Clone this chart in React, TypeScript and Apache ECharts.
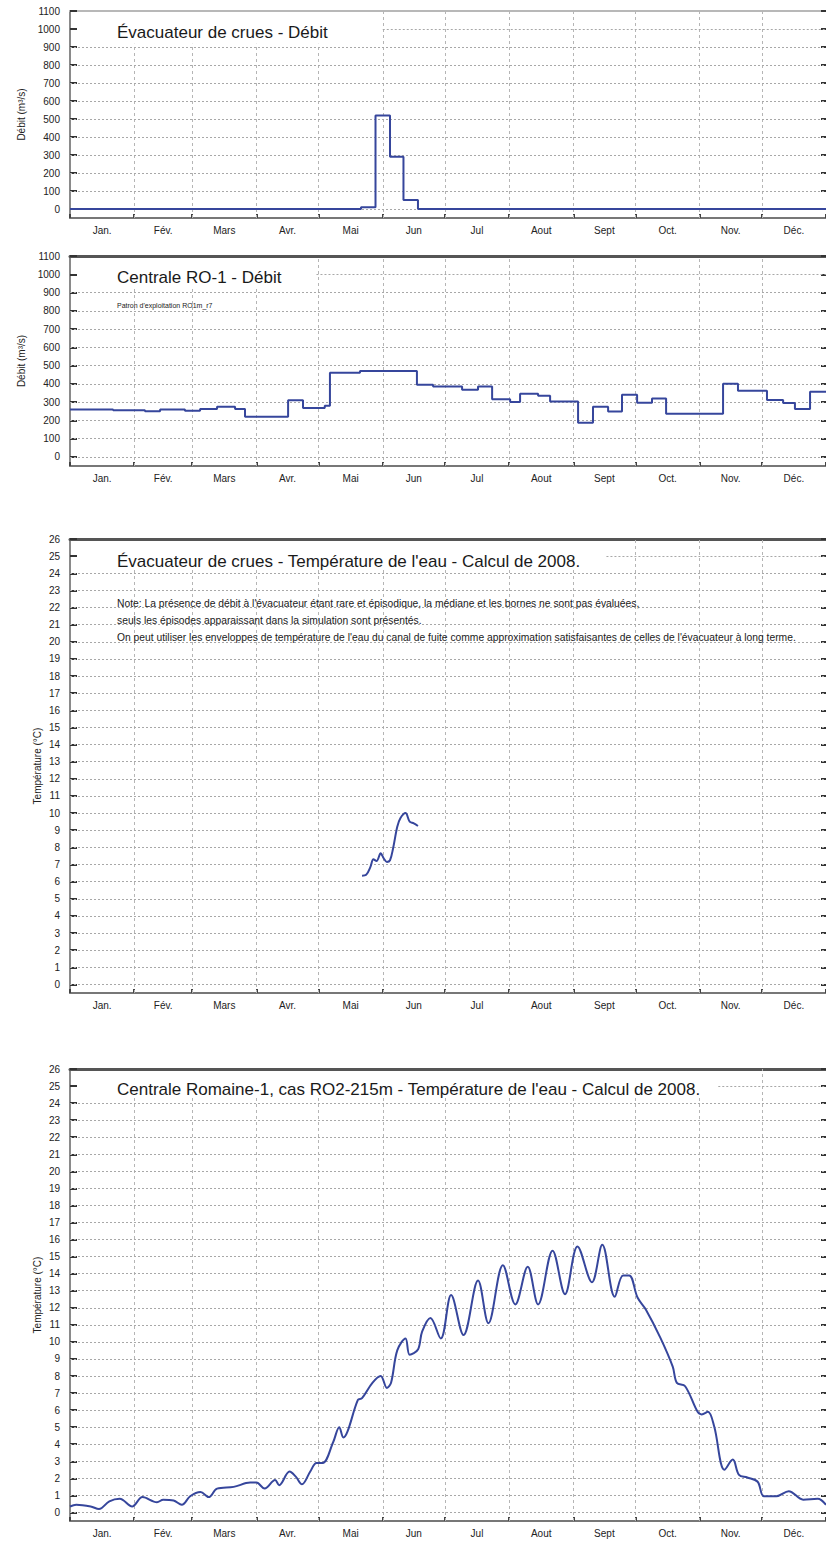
import React, { useEffect, useRef } from "react";
import * as echarts from "echarts";

// ---------- categories / ticks ----------
const MONTHS = ["Jan.", "Fév.", "Mars", "Avr.", "Mai", "Jun", "Jul", "Aout", "Sept", "Oct.", "Nov.", "Déc."];
const MONTH_STARTS = [0, 31, 59, 90, 120, 151, 181, 212, 243, 273, 304, 334, 365];
const DEBIT_TICKS = [0, 100, 200, 300, 400, 500, 600, 700, 800, 900, 1000, 1100];
const TEMP_TICKS = [0, 1, 2, 3, 4, 5, 6, 7, 8, 9, 10, 11, 12, 13, 14, 15, 16, 17, 18, 19, 20, 21, 22, 23, 24, 25, 26];

// ---------- series values: [day of year, value] ----------
const SPILL_FLOW: [number, number][] = [
  [0, 0], [140.5, 10], [147.5, 520], [154.5, 290], [161, 50], [168, 0], [365, 0],
];

const PLANT_FLOW: [number, number][] = [
  [0, 260], [20.8, 255], [36.2, 250], [43.5, 260], [55.5, 252], [62.8, 262], [71, 275],
  [79.7, 262], [84.5, 220], [105.3, 310], [112.5, 268], [123, 280], [125.5, 460], [140, 470],
  [167.5, 395], [175.3, 385], [189.3, 368], [197, 385], [203.8, 315], [212.5, 300], [217.3, 345],
  [226, 335], [231.8, 303], [245.3, 187], [252.5, 275], [259.8, 248], [266.5, 340], [273.8, 297],
  [281, 320], [287.8, 236], [315.3, 400], [322.5, 362], [336.5, 312], [344.3, 295], [350, 262],
  [357.3, 357], [365, 357],
];

const SPILL_TEMP: [number, number][] = [
  [141, 6.35], [143, 6.4], [145, 6.85], [146.5, 7.3], [148, 7.2], [150, 7.65], [151.5, 7.35],
  [153, 7.15], [154.5, 7.25], [156, 7.95], [158, 9.2], [159.5, 9.7], [162, 10.0], [164, 9.5],
  [166, 9.4], [168, 9.25],
];

const PLANT_TEMP: [number, number][] = [
  [0, 0.35], [3, 0.45], [10, 0.35], [14, 0.2], [19, 0.65], [24, 0.8], [30, 0.35], [35, 0.9],
  [42, 0.6], [45, 0.75], [50, 0.7], [54, 0.45], [58, 0.95], [63, 1.2], [67, 0.9], [71, 1.4],
  [79, 1.5], [87, 1.75], [90, 1.75], [94, 1.4], [99, 1.9], [101, 1.6], [106, 2.4], [109, 2.1],
  [112, 1.65], [116, 2.4], [119, 2.9], [122, 2.9], [127, 4.1], [130, 5.0], [132, 4.4], [134, 4.75],
  [139, 6.6], [141, 6.7], [146, 7.6], [150, 8.0], [153, 7.3], [155, 7.6], [158, 9.5], [162, 10.2],
  [164, 9.25], [168, 9.55], [170, 10.6], [174, 11.4], [179, 10.2], [184, 12.75], [190, 10.4],
  [197, 13.6], [202, 11.1], [209, 14.5], [215, 12.2], [221, 14.4], [226, 12.2], [233, 15.35],
  [239, 12.8], [245, 15.6], [252, 13.5], [257, 15.7], [263, 12.65], [267, 13.9], [270, 13.9],
  [274, 12.6], [278, 11.9], [285, 10.25], [291, 8.55], [293, 7.6], [297, 7.4], [303, 5.9],
  [305, 5.75], [308, 5.9], [311, 5.05], [316, 2.5], [320, 3.1], [323, 2.2], [327, 2.05],
  [332, 1.8], [335, 0.95], [341, 0.95], [347, 1.25], [354, 0.75], [361, 0.8], [365, 0.45],
];

const TITLES = [
  "Évacuateur de crues - Débit",
  "Centrale RO-1 - Débit",
  "Évacuateur de crues - Température de l'eau - Calcul de 2008.",
  "Centrale Romaine-1, cas RO2-215m - Température de l'eau - Calcul de 2008.",
];
const SUBTITLE_RO1 = "Patron d'exploitation RO1m_r7";
const NOTES = [
  "Note: La présence de débit à l'évacuateur étant rare et épisodique, la médiane et les bornes ne sont pas évaluées,",
  "seuls les épisodes apparaissant dans la simulation sont présentés.",
  "On peut utiliser les enveloppes de température de l'eau du canal de fuite comme approximation satisfaisantes de celles de l'évacuateur à long terme.",
];

const FONT = "'Liberation Sans', Arial, sans-serif";
const LINE_COLOR = "#36469c";
const MONTH_MIDS = MONTH_STARTS.slice(0, 12).map((s, i) => (s + MONTH_STARTS[i + 1]) / 2);

type Panel = {
  top: number; height: number; yMin: number; yMax: number; ticks: number[];
  name: string; nameGap: number; data: [number, number][]; kind: "step" | "smooth";
  topColor: string; topWidth: number;
  title: string; titleY: number;
  // title area kept free of grid lines: left of day `clipDay` and above `clipValue`
  clipDay: number; clipValue: number;
};

const PANELS: Panel[] = [
  { top: 11, height: 207, yMin: -50, yMax: 1100, ticks: DEBIT_TICKS, name: "Débit (m³/s)", nameGap: 44,
    data: SPILL_FLOW, kind: "step", topColor: "#b8b8b8", topWidth: 2,
    title: TITLES[0], titleY: 32, clipDay: 151, clipValue: 918 },
  { top: 256, height: 210, yMin: -50, yMax: 1100, ticks: DEBIT_TICKS, name: "Débit (m³/s)", nameGap: 44,
    data: PLANT_FLOW, kind: "step", topColor: "#555", topWidth: 3,
    title: TITLES[1], titleY: 277, clipDay: 119, clipValue: 922 },
  { top: 539, height: 454, yMin: -0.5, yMax: 26, ticks: TEMP_TICKS, name: "Température (°C)", nameGap: 28,
    data: SPILL_TEMP, kind: "smooth", topColor: "#555", topWidth: 3,
    title: TITLES[2], titleY: 561, clipDay: 259, clipValue: 24.3 },
  { top: 1069, height: 452, yMin: -0.5, yMax: 26, ticks: TEMP_TICKS, name: "Température (°C)", nameGap: 28,
    data: PLANT_TEMP, kind: "smooth", topColor: "#555", topWidth: 3,
    title: TITLES[3], titleY: 1089, clipDay: 313, clipValue: 24.3 },
];

const V_STYLE = { color: "#b5b5b5", width: 1, type: [3, 3] };
const H_STYLE = { color: "#a8a8a8", width: 1, type: [2, 2] };

function buildOption() {
  const grid: any[] = [];
  const xAxis: any[] = [];
  const yAxis: any[] = [];
  const series: any[] = [];
  const title: any[] = [];
  const graphic: any[] = [];

  PANELS.forEach((p, i) => {
    grid.push({ left: 70, right: -1, top: p.top, height: p.height });
    xAxis.push({
      type: "value", gridIndex: i, min: 0, max: 365, position: "bottom",
      axisLine: { show: true, onZero: false, lineStyle: { color: "#777", width: 2 } },
      axisTick: { show: true, inside: true, length: 4, customValues: MONTH_STARTS, lineStyle: { color: "#444", width: 2 } },
      axisLabel: {
        show: true, customValues: MONTH_MIDS, margin: 7, color: "#222", fontSize: 10, fontFamily: FONT,
        formatter: (v: number) => { const k = MONTH_MIDS.findIndex((m) => Math.abs(m - v) < 0.01); return k >= 0 ? MONTHS[k] : ""; },
      },
      splitLine: { show: false },
    });
    xAxis.push({
      type: "value", gridIndex: i, min: 0, max: 365, position: "top",
      axisLine: { show: true, onZero: false, lineStyle: { color: p.topColor, width: p.topWidth } },
      axisTick: { show: false }, axisLabel: { show: false }, splitLine: { show: false },
    });
    yAxis.push({
      type: "value", gridIndex: i, min: p.yMin, max: p.yMax, position: "left",
      name: p.name, nameLocation: "middle", nameGap: p.nameGap, nameRotate: 90, nameMoveOverlap: false,
      nameTextStyle: { color: "#222", fontSize: 10, fontFamily: FONT },
      axisLine: { show: true, onZero: false, lineStyle: { color: "#8a8a8a", width: 2 } },
      axisTick: { show: true, inside: true, length: 7, customValues: p.ticks, lineStyle: { color: "#333", width: 2 } },
      axisLabel: {
        show: true, customValues: p.ticks, margin: 10, color: "#222", fontSize: 10, fontFamily: FONT,
        formatter: (v: number) => String(v),
      },
      splitLine: { show: false },
    });
    yAxis.push({
      type: "value", gridIndex: i, min: p.yMin, max: p.yMax, position: "right",
      axisLine: { show: false, onZero: false },
      axisTick: { show: true, inside: true, length: 5, customValues: p.ticks, lineStyle: { color: "#333", width: 2 } },
      axisLabel: { show: false }, splitLine: { show: false },
    });

    // dashed grid lines as segments (kept out of the title area)
    const gridLines: any[] = [];
    MONTH_STARTS.slice(1, 12).forEach((d) => {
      const yTop = d < p.clipDay ? p.clipValue : p.yMax;
      gridLines.push([{ coord: [d, p.yMin], lineStyle: V_STYLE }, { coord: [d, yTop] }]);
    });
    p.ticks.filter((v) => v < p.yMax).forEach((v) => {
      const xStart = v > p.clipValue ? p.clipDay : 0;
      gridLines.push([{ coord: [xStart, v], lineStyle: H_STYLE }, { coord: [365, v] }]);
    });

    series.push({
      type: "line", xAxisIndex: 2 * i, yAxisIndex: 2 * i, data: p.data, z: 10,
      showSymbol: false, symbol: "none",
      step: p.kind === "step" ? "end" : false,
      smooth: p.kind === "smooth" ? 0.35 : false,
      lineStyle: { color: LINE_COLOR, width: 2 },
      markLine: { silent: true, symbol: ["none", "none"], label: { show: false }, animation: false, data: gridLines },
    });

    title.push({
      text: p.title, left: 117, top: p.titleY - 10, z: 100, padding: 0,
      textStyle: { fontSize: 17, fontWeight: "normal", color: "#1a1a1a", fontFamily: FONT, lineHeight: 20 },
    });
  });

  title.push({
    text: SUBTITLE_RO1, left: 117, top: 301, z: 100, padding: 0,
    textStyle: { fontSize: 7, fontWeight: "normal", color: "#222", fontFamily: FONT, lineHeight: 8 },
  });
  const noteYs = [604, 621, 638];
  NOTES.forEach((t, k) =>
    graphic.push({ type: "text", left: 117, top: noteYs[k] - 6, z: 101, style: { text: t, font: `10.3px ${FONT}`, fill: "#1a1a1a" } })
  );

  return { animation: false, backgroundColor: "#fff", title, grid, xAxis, yAxis, series, graphic };
}

export default function App() {
  const ref = useRef<HTMLDivElement>(null);
  useEffect(() => {
    if (!ref.current) return;
    const chart = echarts.init(ref.current, undefined, { renderer: "svg" });
    chart.setOption(buildOption() as any);
    return () => chart.dispose();
  }, []);
  return <div ref={ref} style={{ position: "absolute", left: 0, top: 0, width: 826, height: 1542, background: "#fff" }} />;
}
